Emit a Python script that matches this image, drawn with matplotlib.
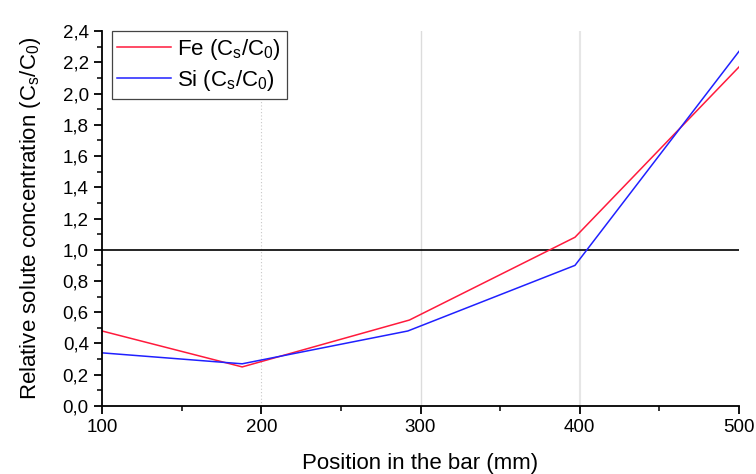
import matplotlib
matplotlib.use("Agg")
import matplotlib.pyplot as plt
from matplotlib.ticker import MultipleLocator, FuncFormatter

plt.rcParams['font.family'] = ['Liberation Sans', 'DejaVu Sans']

# Positions along the bar (mm) and relative concentrations Cs/C0
position_fe = [100, 188, 293, 397, 500]
fe_ratio = [0.48, 0.25, 0.55, 1.08, 2.17]
position_si = [100, 188, 292, 397, 500]
si_ratio = [0.34, 0.27, 0.48, 0.90, 2.27]
reference_level = 1.0

fig = plt.figure(figsize=(7.56, 4.74), dpi=100)
ax = fig.add_axes([0.135, 0.1435, 0.8425, 0.791])

# faint vertical guides
ax.axvline(200, color='#c8c8c8', lw=0.8, ls=(0, (1, 2)), zorder=0)
ax.axvline(300, color='#dcdcdc', lw=1.0, zorder=0)
ax.axvline(400, color='#e6e6e6', lw=1.5, zorder=0)

ax.plot([100, 500], [reference_level, reference_level], color='black', lw=1.2)
ax.plot(position_fe, fe_ratio, color='#ff1a3c', lw=1.1, label='Fe (C$_\\mathregular{s}$/C$_\\mathregular{0}$)')
ax.plot(position_si, si_ratio, color='#2020ff', lw=1.1, label='Si (C$_\\mathregular{s}$/C$_\\mathregular{0}$)')

ax.set_xlim(100, 500)
ax.set_ylim(0, 2.4)
ax.xaxis.set_major_locator(MultipleLocator(100))
ax.xaxis.set_minor_locator(MultipleLocator(50))
ax.yaxis.set_major_locator(MultipleLocator(0.2))
ax.yaxis.set_minor_locator(MultipleLocator(0.1))
ax.yaxis.set_major_formatter(FuncFormatter(lambda v, p: f"{v:.1f}".replace('.', ',')))

for side in ('top', 'right'):
    ax.spines[side].set_visible(False)
for side in ('left', 'bottom'):
    ax.spines[side].set_linewidth(1.3)
ax.tick_params(which='major', direction='out', length=6, width=1.3, labelsize=13.5, colors='black')
ax.tick_params(which='minor', direction='out', length=3.5, width=1.1)

ax.set_xlabel('Position in the bar (mm)', fontsize=16, labelpad=12)
ax.set_ylabel('Relative solute concentration (C$_\\mathregular{s}$/C$_\\mathregular{0}$)', fontsize=16, labelpad=14)

leg = ax.legend(loc='upper left', bbox_to_anchor=(0.015, 1.0), fontsize=16, fancybox=False,
                framealpha=1, edgecolor='#444444', borderpad=0.25, handlelength=2.4,
                handletextpad=0.3, labelspacing=0.3, borderaxespad=0.0)
leg.get_frame().set_linewidth(0.9)

fig.savefig('out.png', dpi=100)
